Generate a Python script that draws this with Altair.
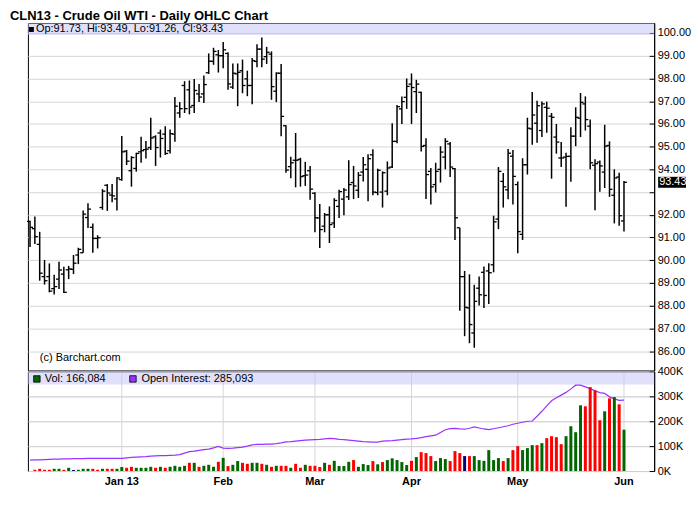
import altair as alt
import pandas as pd

title_text = "CLN13 - Crude Oil WTI - Daily OHLC Chart"
copyright_text = "(c) Barchart.com"
month_labels = ["Jan 13", "Feb", "Mar", "Apr", "May", "Jun"]
month_index = [19, 40, 59, 79, 101, 123]
price_ticks = list(range(86, 101))
vol_ticks = [0, 100000, 200000, 300000, 400000]

opens = [91.71, 91.39, 90.70, 89.28, 89.28, 88.75, 89.17, 89.39, 89.58, 89.60,
         90.23, 90.33, 91.88, 91.45, 90.96, 92.32, 93.30, 92.87, 92.70, 93.55,
         94.80, 93.94, 94.04, 94.77, 94.87, 94.96, 95.43, 95.60, 95.55, 94.82,
         95.55, 96.48, 97.69, 97.50, 96.81, 97.32, 97.32, 98.25, 98.75, 99.04,
         99.00, 99.10, 97.62, 98.20, 98.34, 97.98, 97.69, 98.75, 99.29, 98.96,
         99.07, 97.44, 98.23, 95.92, 94.12, 94.40, 94.44, 93.72, 93.94, 92.95,
         91.86, 91.50, 92.00, 91.64, 92.37, 92.69, 92.79, 93.42, 93.08, 93.88,
         94.00, 94.64, 92.98, 93.00, 93.04, 94.10, 95.23, 96.66, 97.17, 97.75,
         97.42, 97.39, 95.05, 93.91, 93.33, 94.00, 94.54, 95.12, 94.03, 91.43,
         89.28, 87.90, 86.80, 88.77, 89.47, 89.53, 89.80, 91.81, 93.47, 93.10,
         94.58, 93.33, 91.14, 94.20, 95.78, 96.03, 95.71, 96.73, 96.34, 95.42,
         94.50, 94.54, 94.57, 95.46, 96.25, 96.88, 95.90, 94.18, 94.32, 93.88,
         95.05, 92.86, 93.66, 91.73]
highs = [91.74, 91.93, 91.25, 90.01, 89.86, 89.36, 89.93, 89.71, 89.75, 90.23,
         90.55, 92.19, 92.51, 91.62, 91.10, 93.13, 93.35, 93.35, 93.65, 95.47,
         94.85, 94.58, 94.73, 95.43, 95.25, 96.27, 95.50, 95.75, 95.90, 95.75,
         97.18, 96.96, 97.88, 97.91, 97.98, 97.76, 98.13, 99.10, 99.35, 99.25,
         99.60, 99.15, 98.66, 98.66, 98.83, 98.34, 98.90, 99.51, 99.80, 99.39,
         99.19, 98.27, 98.64, 95.94, 94.55, 95.60, 94.51, 94.33, 94.15, 92.99,
         92.48, 92.08, 92.37, 92.73, 93.10, 93.18, 94.40, 94.15, 93.88, 94.54,
         94.66, 94.88, 94.03, 93.91, 94.35, 96.03, 96.83, 97.21, 98.00, 98.22,
         97.94, 97.42, 95.37, 94.06, 94.29, 95.02, 95.37, 95.20, 94.06, 91.43,
         89.53, 89.38, 88.92, 89.28, 89.72, 89.87, 91.96, 94.10, 93.84, 94.90,
         94.85, 93.47, 94.49, 96.27, 97.40, 97.02, 96.98, 96.98, 96.48, 96.00,
         95.20, 94.73, 95.85, 96.73, 97.36, 97.21, 96.19, 94.44, 94.39, 95.96,
         95.23, 94.00, 93.85, 93.49]
lows = [90.58, 90.72, 89.10, 88.93, 88.59, 88.49, 88.74, 88.56, 89.17, 89.39,
        89.83, 90.33, 91.42, 90.33, 90.52, 92.22, 92.17, 92.55, 92.19, 93.50,
        94.19, 93.24, 93.90, 94.29, 94.48, 94.85, 94.15, 94.52, 94.63, 94.70,
        95.21, 96.27, 96.48, 96.42, 96.48, 96.96, 96.92, 98.20, 98.60, 98.26,
        98.45, 97.50, 97.54, 96.78, 97.35, 97.22, 96.86, 98.49, 98.49, 98.64,
        97.06, 96.96, 95.46, 93.85, 93.61, 93.21, 93.24, 93.27, 92.66, 91.23,
        90.54, 91.23, 90.76, 91.42, 91.86, 91.98, 92.65, 92.69, 92.74, 93.47,
        92.60, 92.86, 92.86, 92.32, 92.86, 94.06, 95.15, 96.00, 96.66, 96.00,
        96.48, 94.79, 92.69, 92.45, 92.98, 93.42, 94.00, 93.66, 90.89, 87.78,
        86.66, 86.35, 86.15, 88.01, 87.90, 88.07, 89.47, 91.37, 92.32, 92.68,
        92.45, 90.31, 90.89, 93.77, 95.08, 95.17, 95.42, 95.61, 93.59, 94.69,
        94.10, 92.35, 93.45, 95.02, 95.42, 95.71, 94.00, 92.20, 93.01, 93.18,
        92.79, 91.62, 91.52, 91.26]
closes = [91.45, 91.04, 89.43, 89.10, 88.64, 88.84, 89.57, 88.59, 89.62, 89.87,
          90.48, 92.03, 92.25, 90.96, 90.99, 93.04, 92.96, 92.83, 93.62, 94.77,
          94.36, 94.52, 94.70, 94.82, 94.89, 95.38, 94.96, 95.36, 94.70, 95.57,
          96.78, 96.67, 96.67, 96.74, 97.47, 97.18, 97.73, 98.76, 99.19, 99.00,
          99.26, 97.76, 98.23, 98.27, 97.69, 97.69, 98.78, 99.29, 98.85, 99.15,
          97.64, 98.23, 96.33, 93.97, 94.29, 94.40, 93.68, 93.75, 93.13, 91.87,
          91.35, 92.00, 91.57, 92.63, 93.02, 93.09, 93.33, 93.27, 93.74, 94.20,
          94.47, 93.00, 93.96, 93.85, 94.06, 95.23, 96.76, 96.98, 97.65, 97.60,
          97.75, 95.01, 93.77, 93.23, 93.91, 94.76, 95.23, 94.10, 91.87, 89.28,
          87.93, 87.17, 88.19, 88.48, 88.45, 89.45, 91.69, 93.91, 93.23, 94.71,
          93.69, 91.26, 94.20, 95.81, 96.39, 96.80, 96.88, 96.69, 96.29, 95.20,
          94.50, 94.57, 95.46, 96.29, 96.95, 96.19, 94.29, 94.25, 94.15, 95.02,
          93.12, 93.62, 91.96, 93.43]
# volume, thousands of contracts
volume_k = [0, 5, 9, 5, 5, 9, 9, 5, 13, 4,
            5, 9, 9, 9, 5, 9, 9, 9, 9, 16,
            13, 17, 13, 13, 13, 17, 13, 17, 13, 17,
            21, 17, 21, 33, 33, 17, 21, 25, 17, 37,
            53, 20, 25, 40, 33, 29, 33, 33, 29, 25,
            17, 21, 21, 21, 13, 29, 13, 25, 21, 21,
            16, 33, 25, 41, 20, 20, 37, 44, 17, 28,
            24, 40, 27, 36, 44, 51, 44, 36, 24, 41,
            56, 76, 72, 60, 40, 52, 48, 40, 80, 72,
            60, 60, 60, 44, 41, 84, 44, 52, 40, 52,
            84, 100, 84, 92, 104, 104, 112, 132, 140, 136,
            108, 140, 180, 156, 264, 260, 337, 324, 204, 240,
            292, 297, 268, 166.084]
# G = up, R = down, N = unchanged
volume_dir = list("R" + "RRRRGGRGNG" + "GGRRGRRGGR" + "RGGGGRGRGG" + "GGRGRGGGRG"
                  + "RGGRRGGRGR" + "GRRGRRGRRR" + "GRGGGGRGGG" + "RGRGGGGGRG"
                  + "RRRGGGRRRN" + "RGGGGGGRGR" + "RGGGRGRRRR" + "GGGGRRRRGR" + "GRG")
# open interest, thousands of contracts
open_interest_k = [44, 45, 45, 46, 47, 48, 48, 49, 49, 50,
                   50, 50, 51, 51, 51, 51, 51, 51, 51, 51,
                   53, 55, 56, 57, 58, 60, 61, 62, 62, 63,
                   64, 66, 72, 78, 80, 83, 86, 88, 93, 99,
                   92, 91, 92, 94, 96, 100, 105, 107, 107, 108,
                   108, 110, 113, 117, 118, 120, 122, 124, 125, 126,
                   127, 129, 131, 130, 127, 126, 124, 122, 120, 118,
                   117, 116, 116, 120, 121, 122, 124, 126, 128, 129,
                   131, 134, 138, 141, 144, 155, 166, 170, 171, 169,
                   168, 172, 177, 173, 169, 166, 170, 174, 178, 182,
                   188, 192, 196, 200, 201, 220, 240, 262, 282, 294,
                   305, 316, 330, 345, 345, 338, 331, 322, 315, 312,
                   298, 290, 284, 285.093]

n = len(closes)
volume = [round(v * 1000) for v in volume_k]
open_interest = [round(v * 1000) for v in open_interest_k]
df = pd.DataFrame({
    "i": list(range(n)), "open": opens, "high": highs, "low": lows, "close": closes,
    "vol": volume, "dir": volume_dir, "oi": open_interest,
})
months = pd.DataFrame({"i": month_index, "label": month_labels})
vlevels = pd.DataFrame({"v": vol_ticks[1:-1]})
ann = pd.DataFrame({
    "ohlc": [f"Op:{opens[-1]:.2f}, Hi:{highs[-1]:.2f}, Lo:{lows[-1]:.2f}, Cl:{closes[-1]:.2f}"],
    "voltxt": [f"Vol: {volume[-1]:,}"],
    "oitxt": [f"Open Interest: {open_interest[-1]:,}"],
    "last": [closes[-1]],
})

W = 629
H_TOP = 349
H_BOT = 100
GAP = 1
FONT = "Liberation Sans"
GRID = "#d6d6d6"
BAND_FILL = "#c1c1f5"
DIR_COLORS = {"G": "#006600", "R": "#ff0000", "N": "#000080"}

xscale = alt.Scale(domain=[-0.44, 129.25], nice=False, zero=False, padding=0)
pscale = alt.Scale(domain=[85.15, 100.44], nice=False, zero=False)
vscale = alt.Scale(domain=[0, vol_ticks[-1]], nice=False, zero=True)

hidden = round(closes[-1])

x_axis_top = alt.Axis(orient="bottom", values=month_index, grid=True, gridColor=GRID, labels=False,
                      ticks=False, domain=False, title=None)
p_axis = alt.Axis(orient="right", values=price_ticks,
                  labelExpr=f"datum.value == {hidden} ? '' : format(datum.value, '.2f')",
                  grid=True, gridColor=GRID, ticks=False, domain=True, domainColor="black",
                  labelPadding=3, labelFontSize=11, labelFont=FONT, labelColor="black",
                  title=None, labelFlush=False)
p_tick_axis = alt.Axis(orient="left", offset=-W, values=price_ticks, labels=False, grid=False,
                       domain=False, ticks=True, tickSize=5, tickColor="black", title=None)
v_axis = alt.Axis(orient="right", values=vol_ticks,
                  labelExpr="format(datum.value / 1000, 'd') + 'K'",
                  grid=True, gridColor=GRID, ticks=False, domain=True, domainColor="black",
                  labelPadding=3, labelFontSize=11, labelFont=FONT, labelColor="black",
                  title=None, labelFlush=False)
v_tick_axis = alt.Axis(orient="left", offset=-W, values=vol_ticks, labels=False, grid=False,
                       domain=False, ticks=True, tickSize=5, tickColor="black", title=None)

base = alt.Chart(df)
note = alt.Chart(ann)
mon = alt.Chart(months)

# ---------- upper price panel ----------
band_top = note.mark_rect(color=BAND_FILL, opacity=0.5).encode(
    x=alt.value(0), x2=alt.value(W), y=alt.value(0), y2=alt.value(12))
# grid of the volume panel, drawn from the upper view (sits below the volume marks)
lower_top = H_TOP + GAP
ext_v = mon.mark_rule(color=GRID, strokeWidth=1).encode(
    x=alt.X("i:Q", axis=None), y=alt.value(lower_top), y2=alt.value(lower_top + H_BOT))
ext_h = [note.mark_rule(color=GRID, strokeWidth=1).encode(
    x=alt.value(0), x2=alt.value(W),
    y=alt.value(lower_top + H_BOT * (1 - v / vol_ticks[-1]) + 0.5)) for v in vol_ticks[1:-1]]
hl = base.mark_rule(color="black", strokeWidth=1.5).encode(
    x=alt.X("i:Q", scale=xscale, axis=x_axis_top),
    y=alt.Y("low:Q", scale=pscale, axis=p_axis),
    y2="high:Q")
op = base.mark_rule(color="black", strokeWidth=1.3, xOffset=-3).encode(
    x=alt.X("i:Q", axis=None), x2="i:Q",
    y=alt.Y("open:Q", axis=p_tick_axis))
cl = base.mark_rule(color="black", strokeWidth=1.3, x2Offset=3).encode(
    x=alt.X("i:Q", axis=None), x2="i:Q",
    y=alt.Y("close:Q", axis=None))
top_sq = note.mark_square(size=25, color="black", opacity=1).encode(
    x=alt.value(3.5), y=alt.value(6.5))
top_txt = note.mark_text(align="left", baseline="middle", fontSize=11, font=FONT,
                         color="black").encode(x=alt.value(8), y=alt.value(6.5), text="ohlc:N")
copy_txt = note.mark_text(align="left", baseline="middle", fontSize=11, font=FONT,
                          color="black").encode(x=alt.value(12), y=alt.value(336),
                                                text=alt.value(copyright_text))
mk_rect = note.mark_rect(color="black", yOffset=-5.5, y2Offset=5.5).encode(
    x=alt.value(W + 4), x2=alt.value(W + 32),
    y=alt.Y("last:Q", axis=None), y2="last:Q")
mk_txt = note.mark_text(align="left", baseline="middle", fontSize=11, font=FONT,
                        color="white").encode(
    x=alt.value(W + 5), y=alt.Y("last:Q", axis=None),
    text=alt.Text("last:Q", format=".2f"))

upper = alt.layer(band_top, ext_v, *ext_h, hl, op, cl, top_sq, top_txt, copy_txt, mk_rect,
                  mk_txt).resolve_axis(y="independent").properties(width=W, height=H_TOP)

# ---------- lower volume panel ----------
band_bot = note.mark_rect(color=BAND_FILL, opacity=0.5).encode(
    x=alt.value(0), x2=alt.value(W), y=alt.value(0), y2=alt.value(13))
oi_line = base.mark_line(color="#9933ff", strokeWidth=1.2).encode(
    x=alt.X("i:Q", scale=xscale, axis=None),
    y=alt.Y("oi:Q", scale=vscale, axis=v_tick_axis))
vol_layers = []
for key, col in DIR_COLORS.items():
    vol_layers.append(
        base.transform_filter(alt.datum.dir == key).mark_rule(strokeWidth=3, color=col).encode(
            x=alt.X("i:Q", axis=None),
            y=alt.Y("vol:Q", axis=v_axis if key == "G" else None),
            y2=alt.datum(0)))
mlabels = mon.mark_text(align="center", baseline="top", fontSize=11, fontWeight="bold",
                        font=FONT, color="black").encode(
    x=alt.X("i:Q", axis=None), y=alt.value(H_BOT + 5), text="label:N")
vol_sq = note.mark_square(size=42, color="#006600", opacity=1, stroke="black",
                          strokeWidth=0.8).encode(x=alt.value(9), y=alt.value(7.5))
vol_txt = note.mark_text(align="left", baseline="middle", fontSize=11, font=FONT,
                         color="black").encode(x=alt.value(17), y=alt.value(7.5), text="voltxt:N")
oi_sq = note.mark_square(size=42, color="#9933ff", opacity=1, stroke="black",
                         strokeWidth=0.8).encode(x=alt.value(105.5), y=alt.value(7.5))
oi_txt = note.mark_text(align="left", baseline="middle", fontSize=11, font=FONT,
                        color="black").encode(x=alt.value(114), y=alt.value(7.5), text="oitxt:N")

lower = alt.layer(band_bot, oi_line, *vol_layers, mlabels, vol_sq, vol_txt,
                  oi_sq, oi_txt).resolve_axis(y="independent").properties(width=W, height=H_BOT)

chart = alt.vconcat(upper, lower, spacing=GAP, bounds="flush").properties(
    title=alt.TitleParams(title_text, anchor="start", dx=-18, offset=0, fontSize=13,
                          fontWeight="bold", font=FONT, color="black", frame="group"),
    padding={"left": 2, "top": 0, "right": 0, "bottom": 2},
).configure_view(stroke="black", strokeWidth=1)

chart.save("out.html", embed_options={"renderer": "svg", "actions": False})
